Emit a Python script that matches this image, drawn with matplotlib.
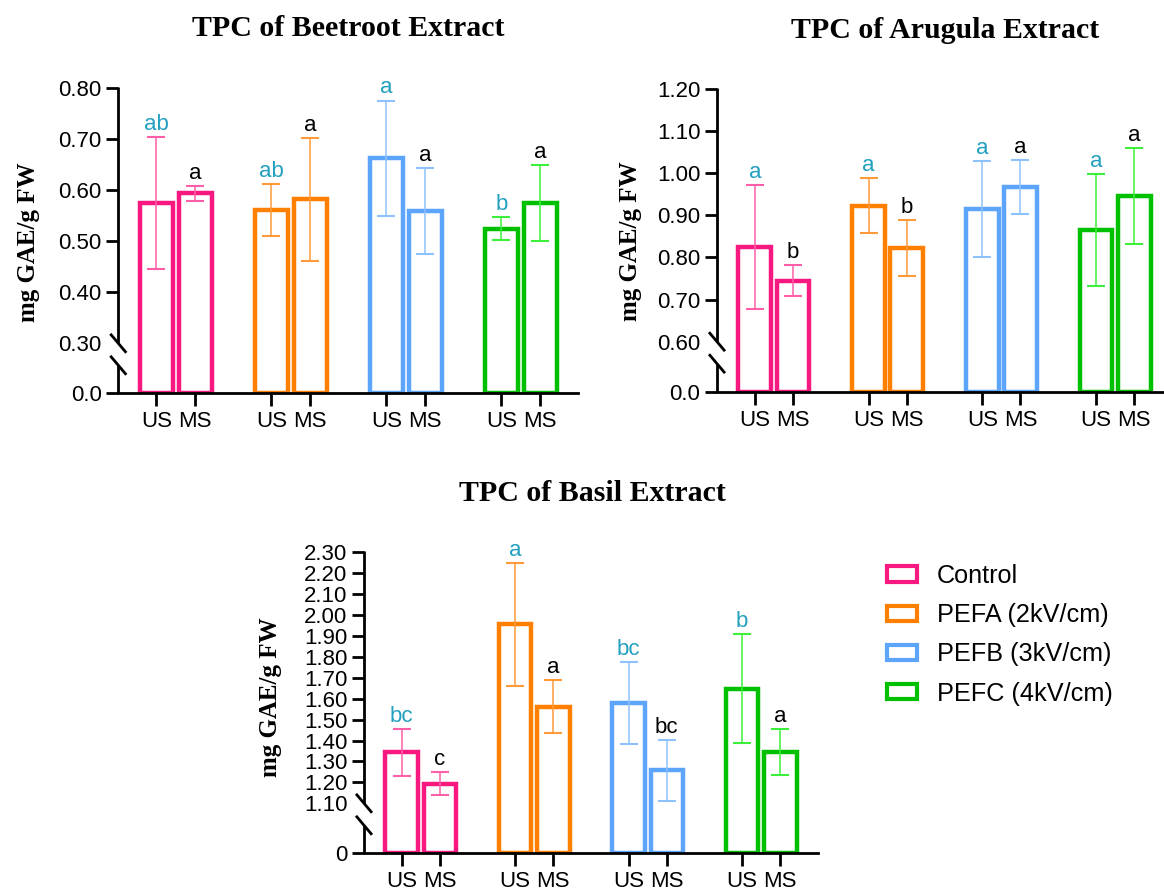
import numpy as np
import matplotlib
matplotlib.use("Agg")
import matplotlib.pyplot as plt
from matplotlib.lines import Line2D
from matplotlib.patches import Patch

# ---- data ----
groups = ["Control", "PEFA (2kV/cm)", "PEFB (3kV/cm)", "PEFC (4kV/cm)"]
conds = ["US", "MS"]

beet_us = [0.575, 0.561, 0.663, 0.525]
beet_ms = [0.594, 0.582, 0.560, 0.575]
beet_us_sd = [0.130, 0.051, 0.113, 0.023]
beet_ms_sd = [0.015, 0.121, 0.084, 0.075]
beet_us_lbl = ["ab", "ab", "a", "b"]
beet_ms_lbl = ["a", "a", "a", "a"]

aru_us = [0.825, 0.923, 0.915, 0.865]
aru_ms = [0.745, 0.822, 0.967, 0.946]
aru_us_sd = [0.148, 0.065, 0.115, 0.133]
aru_ms_sd = [0.037, 0.066, 0.065, 0.114]
aru_us_lbl = ["a", "a", "a", "a"]
aru_ms_lbl = ["b", "b", "a", "a"]

bas_us = [1.343, 1.955, 1.580, 1.648]
bas_ms = [1.194, 1.562, 1.258, 1.344]
bas_us_sd = [0.111, 0.293, 0.196, 0.262]
bas_ms_sd = [0.054, 0.128, 0.146, 0.110]
bas_us_lbl = ["bc", "a", "bc", "b"]
bas_ms_lbl = ["c", "a", "bc", "a"]

colors = ["#F7197F", "#FF8000", "#5CA5FB", "#00C000"]
err_colors = ["#FF5FA8", "#FF9A3A", "#8EC2FF", "#3CF03C"]
lbl_teal = "#22A0BE"

SANS = ["Liberation Sans", "DejaVu Sans"]
SERIF = ["Liberation Serif", "DejaVu Serif"]
plt.rcParams["font.family"] = SANS

W, H = 1164, 891
fig = plt.figure(figsize=(W / 100, H / 100), dpi=100)


def box(l, t, r, b):
    return [l / W, 1 - b / H, (r - l) / W, (b - t) / H]


def make_scale(brk, low):
    # piecewise axis: [0, brk] squeezed into `low` tick steps, above it 1 step per 0.1
    def fwd(y):
        y = np.asarray(y, dtype=float)
        return np.where(y < brk, y / brk * low, low + (y - brk) / 0.1)

    def inv(t):
        t = np.asarray(t, dtype=float)
        return np.where(t < low, t / low * brk, brk + (t - low) * 0.1)
    return fwd, inv


def draw_break(ax, brk, gap=22):
    x0 = ax.get_xlim()[0]
    _, yb = ax.transData.transform((x0, brk))
    _, yt = ax.transData.transform((x0, ax.get_ylim()[1]))
    xs, y0 = ax.transData.transform((x0, 0))
    inv = fig.transFigure.inverted()
    segs = [[(xs, yt + 1), (xs, yb)],
            [(xs, yb - gap), (xs, y0)],
            [(xs - 8, yb + 9.5), (xs + 8, yb - 9.5)],
            [(xs - 8, yb - gap + 9.5), (xs + 8, yb - gap - 9.5)]]
    for s in segs:
        p = inv.transform(s)
        fig.add_artist(Line2D(p[:, 0], p[:, 1], color="black", lw=2.0,
                              transform=fig.transFigure, solid_capstyle="butt"))


def panel(rect, us, ms, us_sd, ms_sd, us_lbl, ms_lbl, brk, low, top, zero_lbl):
    ax = fig.add_axes(rect)
    fwd, inv = make_scale(brk, low)
    ax.set_yscale("function", functions=(fwd, inv))
    x = np.arange(len(groups))
    off, bw = 0.168, 0.287
    for vals, sds, lbls, sign, lc in [(us, us_sd, us_lbl, -1, lbl_teal),
                                      (ms, ms_sd, ms_lbl, 1, "black")]:
        xx = x + sign * off
        ax.bar(xx, vals, width=bw, facecolor="white", edgecolor=colors,
               linewidth=3.2, zorder=2)
        for i in range(len(groups)):
            ax.errorbar(xx[i], vals[i], yerr=sds[i], fmt="none",
                        ecolor=err_colors[i], elinewidth=1.1, capsize=6.5,
                        capthick=1.5, zorder=3)
            ax.annotate(lbls[i], (xx[i], vals[i] + sds[i]), xytext=(0, 1.5),
                        textcoords="offset points", ha="center", va="bottom",
                        fontsize=16, color=lc)
    ax.set_xlim(-0.5, 3.5)
    ax.set_ylim(0, top)
    ticks = [0] + list(np.round(np.arange(brk, top + 1e-9, 0.1), 2))
    ax.set_yticks(ticks)
    ax.set_yticklabels([zero_lbl] + ["%.2f" % t for t in ticks[1:]])
    ax.yaxis.set_minor_locator(matplotlib.ticker.NullLocator())
    ax.yaxis.get_major_ticks()[1].tick1line.set_visible(False)
    ax.set_xticks(np.concatenate([x - off, x + off]))
    ax.set_xticklabels(conds[:1] * len(groups) + conds[1:] * len(groups))
    for s in ["top", "right", "left"]:
        ax.spines[s].set_visible(False)
    ax.spines["bottom"].set_linewidth(2.0)
    ax.tick_params(axis="y", length=8.5, width=2.0, pad=3.5, labelsize=16)
    ax.tick_params(axis="x", length=9, width=2.0, pad=3.5, labelsize=16)
    ax.patch.set_alpha(0)
    draw_break(ax, brk)
    return ax


panel(box(118.3, 88.3, 578.3, 393.3), beet_us, beet_ms, beet_us_sd, beet_ms_sd,
      beet_us_lbl, beet_ms_lbl, 0.30, 50 / 51.0, 0.80, "0.0")
panel(box(717, 89, 1172, 392.3), aru_us, aru_ms, aru_us_sd, aru_ms_sd,
      aru_us_lbl, aru_ms_lbl, 0.60, 50.6 / 42.1, 1.20, "0.0")
panel(box(364, 552.3, 818, 853.3), bas_us, bas_ms, bas_us_sd, bas_ms_sd,
      bas_us_lbl, bas_ms_lbl, 1.10, 50 / 20.92, 2.30, "0")

# titles and y labels
for txt, (px, py) in [("TPC of Beetroot Extract", (348, 28)),
                      ("TPC of Arugula Extract", (945, 30)),
                      ("TPC of Basil Extract", (592, 493))]:
    fig.text(px / W, 1 - py / H, txt, ha="center", va="center",
             fontsize=21.5, fontweight="bold", family=SERIF)
for px, py in [(29, 242), (630, 241), (271, 697)]:
    fig.text(px / W, 1 - py / H, "mg GAE/g FW", ha="center", va="center",
             rotation=90, fontsize=18, fontweight="bold", family=SERIF)

handles = [Patch(facecolor="white", edgecolor=c, linewidth=3.0) for c in colors]
fig.legend(handles, groups, loc="upper left",
           bbox_to_anchor=(887 / W, 1 - 564 / H), frameon=False,
           fontsize=18.2, handlelength=1.2, handleheight=0.55,
           handletextpad=0.78, labelspacing=0.6, borderpad=0,
           borderaxespad=0)

fig.savefig("out.png", dpi=100)
